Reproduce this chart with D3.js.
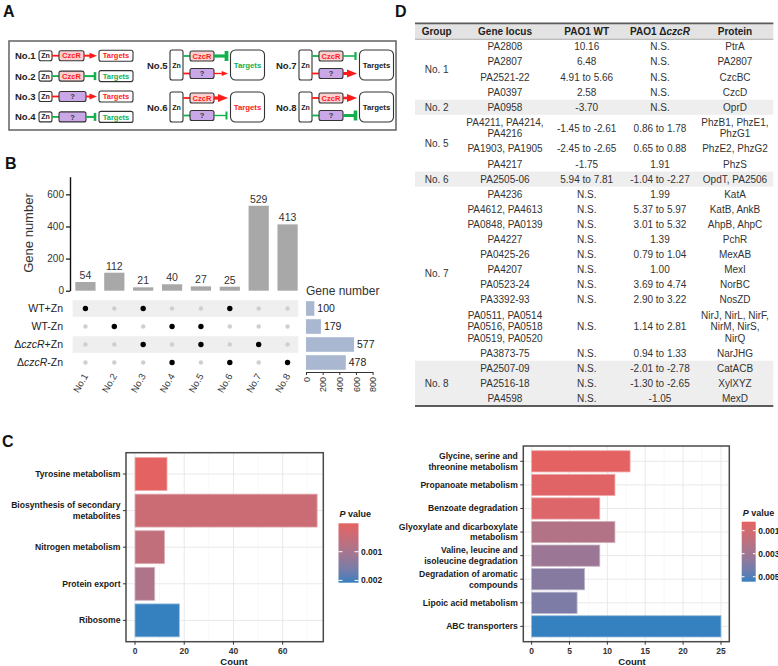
<!DOCTYPE html>
<html><head><meta charset="utf-8">
<script src="https://cdn.jsdelivr.net/npm/d3@7"></script>
<style>body{margin:0;background:#fff} svg{display:block;font-family:"Liberation Sans",Arial,Helvetica,sans-serif}</style>
</head><body>
<svg id="fig" width="778" height="666"></svg>
<script>
// ---------------- DATA ----------------
// Panel B (UpSet)
const combos = ["No.1","No.2","No.3","No.4","No.5","No.6","No.7","No.8"];
const comboCounts = [54,112,21,40,27,25,529,413];
const setNames = ["WT+Zn","WT-Zn","ΔczcR+Zn","ΔczcR-Zn"];
const setSizes = [100,179,577,478];
const membership = [
  [1,0,1,0,0,1,0,0],
  [0,1,0,1,1,0,0,0],
  [0,0,1,0,1,0,1,0],
  [0,0,0,1,0,1,0,1]
];
const comboTicks = [0,200,400,600];
const setTicks = [0,200,400,600,800];

// Panel C left
const pathwaysL = ["Tyrosine metabolism","Biosynthesis of secondary\nmetabolites","Nitrogen metabolism","Protein export","Ribosome"];
const countsL = [13,74,12,8,18];
const pvalsL = [0.00001,0.00045,0.0006,0.0009,0.00208];
const countTicksL = [0,20,40,60];
const pTicksL = [0.001,0.002];

// Panel C right
const pathwaysR = ["Glycine, serine and\nthreonine metabolism","Propanoate metabolism","Benzoate degradation","Glyoxylate and dicarboxylate\nmetabolism","Valine, leucine and\nisoleucine degradation","Degradation of aromatic\ncompounds","Lipoic acid metabolism","ABC transporters"];
const countsR = [13,11,9,11,9,7,6,25];
const pvalsR = [0.00022,0.0004,0.0006,0.0023,0.0031,0.0038,0.0041,0.00543];
const countTicksR = [0,5,10,15,20,25];
const pTicksR = [0.001,0.003,0.005];

// Panel D table
const tHeader = ["Group","Gene locus","PAO1 WT","PAO1 ΔczcR","Protein"];
const tGroup = ["No. 1","No. 1","No. 1","No. 1","No. 2","No. 5","No. 5","No. 5","No. 6","No. 7","No. 7","No. 7","No. 7","No. 7","No. 7","No. 7","No. 7","No. 7","No. 7","No. 8","No. 8","No. 8"];
const tLocus = ["PA2808","PA2807","PA2521-22","PA0397","PA0958","PA4211, PA4214,\nPA4216","PA1903, PA1905","PA4217","PA2505-06","PA4236","PA4612, PA4613","PA0848, PA0139","PA4227","PA0425-26","PA4207","PA0523-24","PA3392-93","PA0511, PA0514\nPA0516, PA0518\nPA0519, PA0520","PA3873-75","PA2507-09","PA2516-18","PA4598"];
const tWT = ["10.16","6.48","4.91 to 5.66","2.58","-3.70","-1.45 to -2.61","-2.45 to -2.65","-1.75","5.94 to 7.81","N.S.","N.S.","N.S.","N.S.","N.S.","N.S.","N.S.","N.S.","N.S.","N.S.","N.S.","N.S.","N.S."];
const tMut = ["N.S.","N.S.","N.S.","N.S.","N.S.","0.86 to 1.78","0.65 to 0.88","1.91","-1.04 to -2.27","1.99","5.37 to 5.97","3.01 to 5.32","1.39","0.79 to 1.04","1.00","3.69 to 4.74","2.90 to 3.22","1.14 to 2.81","0.94 to 1.33","-2.01 to -2.78","-1.30 to -2.65","-1.05"];
const tProtein = ["PtrA","PA2807","CzcBC","CzcD","OprD","PhzB1, PhzE1,\nPhzG1","PhzE2, PhzG2","PhzS","OpdT, PA2506","KatA","KatB, AnkB","AhpB, AhpC","PchR","MexAB","MexI","NorBC","NosZD","NirJ, NirL, NirF,\nNirM, NirS,\nNirQ","NarJHG","CatACB","XylXYZ","MexD"];
const shadedGroups = ["No. 2","No. 6","No. 8"];

// ---------------- DRAW ----------------
const svg = d3.select("#fig");

// panel letters
[["A",3,17],["B",5,169],["C",2,447],["D",395,17]].forEach(([t,x,y])=>
  svg.append("text").attr("x",x).attr("y",y).attr("font-size",16).attr("font-weight","bold").attr("fill","#111").text(t));

// multi-line text helper
function mtext(g,x,yc,str,fs,lh,anchor,attrs){
  const lines = str.split("\n");
  const t = g.append("text").attr("text-anchor",anchor).attr("font-size",fs);
  Object.entries(attrs||{}).forEach(([k,v])=>t.attr(k,v));
  lines.forEach((l,i)=>t.append("tspan").attr("x",x).attr("y",yc+(i-(lines.length-1)/2)*lh+fs*0.35).text(l));
  return t;
}

// ===== Panel A (schematic) =====
const gA = svg.append("g");
const RED="#ff1a1a", GRN="#14b04e", PINK="#fbd0d0", PURP="#caa8e8", STK="#333";
gA.append("rect").attr("x",9).attr("y",41).attr("width",387).attr("height",89)
  .attr("fill","none").attr("stroke","#6b6b6b").attr("stroke-width",1.6);
function box(x,y,w,h,fill,label,color,fs,rx){
  gA.append("rect").attr("x",x).attr("y",y).attr("width",w).attr("height",h).attr("rx",rx||2)
    .attr("fill",fill).attr("stroke",STK).attr("stroke-width",1.1);
  gA.append("text").attr("x",x+w/2).attr("y",y+h/2+fs*0.36).attr("text-anchor","middle")
    .attr("font-size",fs).attr("font-weight","bold").attr("fill",color).text(label);
}
function act(x1,x2,y,sw,hw){
  gA.append("line").attr("x1",x1).attr("x2",x2-hw).attr("y1",y).attr("y2",y).attr("stroke",RED).attr("stroke-width",sw);
  gA.append("path").attr("d",`M${x2-hw*1.25},${y-hw/2}L${x2},${y}L${x2-hw*1.25},${y+hw/2}Z`).attr("fill",RED);
}
function rep(x1,x2,y,sw,bh){
  gA.append("line").attr("x1",x1).attr("x2",x2).attr("y1",y).attr("y2",y).attr("stroke",GRN).attr("stroke-width",sw);
  gA.append("line").attr("x1",x2).attr("x2",x2).attr("y1",y-bh/2).attr("y2",y+bh/2).attr("stroke",GRN).attr("stroke-width",sw+0.6);
}
function conn(x1,x2,y,type){
  gA.append("line").attr("x1",x1).attr("x2",x2).attr("y1",y).attr("y2",y)
    .attr("stroke",type==="act"?RED:GRN).attr("stroke-width",1.8);
}
const simpleRows = [
  {label:"No.1",mid:"CzcR",type:"act"},
  {label:"No.2",mid:"CzcR",type:"rep"},
  {label:"No.3",mid:"?",type:"act"},
  {label:"No.4",mid:"?",type:"rep"}
];
simpleRows.forEach((r,i)=>{
  const yc = 55.7 + i*20.4;
  gA.append("text").attr("x",15).attr("y",yc+3.4).attr("font-size",9.5).attr("font-weight","bold").attr("fill","#222").text(r.label);
  box(39,yc-5,13,10,"#fff","Zn","#222",7);
  conn(52,59,yc,r.type);
  if(r.mid==="CzcR") box(59,yc-5,25,10,PINK,"CzcR",RED,7.5);
  else box(59,yc-5,27,10,PURP,"?","#333",7.5);
  const ex = r.mid==="CzcR"?84:86;
  if(r.type==="act") act(ex,97,yc,2,6); else rep(ex,95,yc,2,8);
  box(99,yc-5.5,34,11,"#fff","Targets",r.type==="act"?RED:GRN,7.5,2);
});
const complexRows = [
  {label:"No.5",x0:147,y0:50,cz:"rep",czW:3.2,q:"act",qW:1.4,tc:GRN},
  {label:"No.6",x0:147,y0:92,cz:"act",czW:3.2,q:"rep",qW:1.4,tc:RED},
  {label:"No.7",x0:276,y0:50,cz:"rep",czW:1.6,q:"act",qW:3.0,tc:"#222"},
  {label:"No.8",x0:276,y0:92,cz:"act",czW:2.6,q:"rep",qW:3.0,tc:"#222"}
];
complexRows.forEach(r=>{
  const x0=r.x0, y0=r.y0;
  gA.append("text").attr("x",x0).attr("y",y0+18.5).attr("font-size",9.5).attr("font-weight","bold").attr("fill","#222").text(r.label);
  box(x0+23,y0,13,30,"#fff","Zn","#222",7,2);
  const yCz=y0+6, yQ=y0+23.5;
  conn(x0+36,x0+43,yCz,r.cz); conn(x0+36,x0+43,yQ,r.q);
  box(x0+43,yCz-5,24,10,PINK,"CzcR",RED,7.5);
  box(x0+43,yQ-5,24,10,PURP,"?","#333",7.5);
  [[r.cz,yCz,r.czW],[r.q,yQ,r.qW]].forEach(([tp,y,w])=>{
    if(tp==="act") act(x0+67,x0+81,y,w,w>2?8:5); else rep(x0+67,x0+79.5,y,w,w>2?10:8);
  });
  box(x0+83.5,y0,34,30,"#fff","Targets",r.tc,7.8,5);
});

// ===== Panel B (UpSet) =====
const gB = svg.append("g").attr("font-size",10);
const xB = d3.scaleBand().domain(combos).range([71,302]).paddingInner(0.3).paddingOuter(0.15);
const yB = d3.scaleLinear().domain([0,710]).range([290.7,176.7]);
const yAx = gB.append("g").attr("transform","translate(70,0)")
  .call(d3.axisLeft(yB).tickValues(comboTicks).tickSize(4).tickSizeOuter(0).tickPadding(2));
yAx.select(".domain").attr("stroke","#111").attr("stroke-width",1.4);
yAx.selectAll(".tick line").attr("stroke","#111").attr("stroke-width",1.2);
yAx.selectAll("text").attr("font-size",10).attr("fill","#333").attr("font-family",null);
gB.append("text").attr("transform","translate(33,233) rotate(-90)").attr("text-anchor","middle")
  .attr("font-size",13).attr("fill","#333").text("Gene number");
gB.selectAll(".cbar").data(combos).join("rect").attr("class","cbar")
  .attr("x",d=>xB(d)).attr("width",xB.bandwidth())
  .attr("y",(d,i)=>yB(comboCounts[i])).attr("height",(d,i)=>yB(0)-yB(comboCounts[i]))
  .attr("fill","#a8a8a8");
gB.selectAll(".clab").data(combos).join("text").attr("class","clab")
  .attr("x",d=>xB(d)+xB.bandwidth()/2).attr("y",(d,i)=>yB(comboCounts[i])-3)
  .attr("text-anchor","middle").attr("fill","#333").attr("font-size",10.5).text((d,i)=>comboCounts[i]);
// matrix
const yM = d3.scaleBand().domain(setNames).range([299.5,371.5]);
const rowC = s => yM(s)+yM.bandwidth()/2;
setNames.forEach((s,i)=>{
  if(i%2===0) gB.append("rect").attr("x",72.7).attr("width",225.6).attr("y",rowC(s)-8.3).attr("height",16.6).attr("fill","#efefef");
  const t = gB.append("text").attr("x",63).attr("y",rowC(s)+3.6).attr("text-anchor","end").attr("font-size",10.5).attr("fill","#222");
  if(s.startsWith("Δ")){ t.append("tspan").text("Δ"); t.append("tspan").attr("font-style","italic").text("czcR"); t.append("tspan").text(s.slice(5)); }
  else t.text(s);
  combos.forEach((c,j)=>{
    const on = membership[i][j]===1;
    gB.append("circle").attr("cx",xB(c)+xB.bandwidth()/2).attr("cy",rowC(s)).attr("r",on?2.7:2.2)
      .attr("fill",on?"#000":"#cfcfcf");
  });
});
combos.forEach(c=>{
  gB.append("text").attr("transform",`translate(${xB(c)+xB.bandwidth()/2+3},376) rotate(-60)`)
    .attr("text-anchor","end").attr("font-size",9.5).attr("fill","#333").text(c);
});
// set sizes
const xS = d3.scaleLinear().domain([0,800]).range([306,372.6]);
setNames.forEach((s,i)=>{
  gB.append("rect").attr("x",xS(0)).attr("y",rowC(s)-7.3).attr("height",14.6).attr("width",xS(setSizes[i])-xS(0)).attr("fill","#a9b8d0");
  gB.append("text").attr("x",xS(setSizes[i])+3).attr("y",rowC(s)+3.6).attr("font-size",10.5).attr("fill","#222").text(setSizes[i]);
});
gB.append("text").attr("x",306).attr("y",295).attr("font-size",12).attr("fill","#333").text("Gene number");
const sAx = gB.append("g").attr("transform","translate(0,372)")
  .call(d3.axisBottom(xS).tickValues(setTicks).tickSize(3).tickSizeOuter(0));
sAx.select(".domain").attr("stroke","#333");
sAx.selectAll(".tick line").attr("stroke","#333");
sAx.selectAll("text").attr("font-size",9).attr("fill","#333").attr("font-family",null)
  .attr("text-anchor","end").attr("transform","rotate(-90)").attr("x",-5).attr("y",0).attr("dy","0.35em");

// ===== Panel C (enrichment bars) =====
function enrich(o){
  const g = svg.append("g");
  const x = d3.scaleLinear().domain(o.xDomain).range([o.left,o.right]);
  const y = d3.scaleBand().domain(o.names).range([o.top,o.bottom]).paddingInner(0.1).paddingOuter(o.po);
  const pScale = d3.scaleLinear().domain(d3.extent(o.pvals)).range([0,1]);
  const interp = d3.interpolateLab("#E46262","#3580BE");
  g.append("rect").attr("x",o.left).attr("y",o.top).attr("width",o.right-o.left).attr("height",o.bottom-o.top).attr("fill","#fff");
  // minor grid
  const minor = o.ticks.slice(0,-1).map((t,i)=>(t+o.ticks[i+1])/2).concat([o.ticks[o.ticks.length-1]+(o.ticks[1]-o.ticks[0])/2]).filter(v=>x(v)<o.right);
  g.selectAll(".mg").data(minor).join("line").attr("x1",d=>x(d)).attr("x2",d=>x(d)).attr("y1",o.top).attr("y2",o.bottom).attr("stroke","#f3f3f3").attr("stroke-width",0.6);
  g.selectAll(".Mg").data(o.ticks).join("line").attr("x1",d=>x(d)).attr("x2",d=>x(d)).attr("y1",o.top).attr("y2",o.bottom).attr("stroke","#e6e6e6").attr("stroke-width",0.9);
  g.selectAll(".hg").data(o.names).join("line").attr("x1",o.left).attr("x2",o.right).attr("y1",d=>y(d)+y.bandwidth()/2).attr("y2",d=>y(d)+y.bandwidth()/2).attr("stroke","#e6e6e6").attr("stroke-width",0.9);
  g.selectAll(".bar").data(o.names).join("rect")
    .attr("x",x(0)).attr("y",d=>y(d)).attr("height",y.bandwidth())
    .attr("width",(d,i)=>x(o.counts[i])-x(0))
    .attr("fill",(d,i)=>interp(pScale(o.pvals[i])))
    .attr("stroke",(d,i)=>d3.interpolateRgb(interp(pScale(o.pvals[i])),"#fff")(0.45)).attr("stroke-width",0.8);
  g.append("rect").attr("x",o.left).attr("y",o.top).attr("width",o.right-o.left).attr("height",o.bottom-o.top)
    .attr("fill","none").attr("stroke","#4a4a4a").attr("stroke-width",1.5);
  // ticks
  o.ticks.forEach(t=>{
    g.append("line").attr("x1",x(t)).attr("x2",x(t)).attr("y1",o.bottom).attr("y2",o.bottom+3).attr("stroke","#333");
    g.append("text").attr("x",x(t)).attr("y",o.bottom+12.5).attr("text-anchor","middle").attr("font-size",8.5).attr("font-weight","bold").attr("fill","#333").text(t);
  });
  o.names.forEach(n=>{
    const yc = y(n)+y.bandwidth()/2;
    g.append("line").attr("x1",o.left-3).attr("x2",o.left).attr("y1",yc).attr("y2",yc).attr("stroke","#333");
    mtext(g,o.left-5.5,yc,n,8.6,10.6,"end",{"font-weight":"bold","fill":"#1a1a1a"});
  });
  g.append("text").attr("x",o.countX).attr("y",o.bottom+23).attr("text-anchor","middle").attr("font-size",9.5).attr("font-weight","bold").attr("fill","#1a1a1a").text("Count");
  // legend
  const L=o.legend;
  const gid="grad"+o.id;
  const grad = svg.append("defs").append("linearGradient").attr("id",gid).attr("x1",0).attr("x2",0).attr("y1",0).attr("y2",1);
  d3.range(0,1.0001,0.1).forEach(t=>grad.append("stop").attr("offset",t).attr("stop-color",interp(t)));
  const tt = g.append("text").attr("x",L.x+1).attr("y",L.y-6).attr("font-size",9).attr("font-weight","bold").attr("fill","#1a1a1a");
  tt.append("tspan").attr("font-style","italic").text("P");
  tt.append("tspan").text(" value");
  g.append("rect").attr("x",L.x).attr("y",L.y).attr("width",L.w).attr("height",L.h).attr("fill",`url(#${gid})`);
  const ly = d3.scaleLinear().domain(d3.extent(o.pvals)).range([L.y,L.y+L.h]);
  o.pTicks.forEach(p=>{
    const yy = ly(p);
    g.append("line").attr("x1",L.x).attr("x2",L.x+L.w*0.2).attr("y1",yy).attr("y2",yy).attr("stroke","#fff");
    g.append("line").attr("x1",L.x+L.w*0.8).attr("x2",L.x+L.w).attr("y1",yy).attr("y2",yy).attr("stroke","#fff");
    g.append("text").attr("x",L.x+L.w+2.5).attr("y",yy+3).attr("font-size",8.5).attr("font-weight","bold").attr("fill","#1a1a1a").text(p.toFixed(3));
  });
}
enrich({id:"L",names:pathwaysL,counts:countsL,pvals:pvalsL,ticks:countTicksL,pTicks:pTicksL,
  xDomain:[-3.66,76.5],left:126,right:323.3,top:452.7,bottom:641.7,po:0.132,countX:234,
  legend:{x:338.5,y:523.3,w:20,h:59.4}});
enrich({id:"R",names:pathwaysR,counts:countsR,pvals:pvalsR,ticks:countTicksR,pTicks:pTicksR,
  xDomain:[-1.1,26.1],left:523.3,right:729.3,top:446,bottom:641.7,po:0.2,countX:632,
  legend:{x:741.7,y:521.7,w:14,h:60}});

// ===== Panel D (table) =====
const gD = svg.append("g").attr("font-size",10);
const tLeft=415, tRight=773.3, tTop=23.3, hdrH=16;
const colX = [436.7,505,586.7,660,735];
const rowH = 15.1, lineGap = 11.5;
const nLines = tLocus.map((s,i)=>Math.max(s.split("\n").length,tProtein[i].split("\n").length));
let yy = tTop+hdrH;
const rowY = nLines.map(n=>{const h=rowH+(n-1)*lineGap; const r={y:yy,h:h}; yy+=h; return r;});
const tBottom = yy;
gD.append("rect").attr("x",tLeft).attr("y",tTop).attr("width",tRight-tLeft).attr("height",hdrH).attr("fill","#e3e3e3");
rowY.forEach((r,i)=>{
  if(shadedGroups.includes(tGroup[i])) gD.append("rect").attr("x",tLeft).attr("y",r.y).attr("width",tRight-tLeft).attr("height",r.h).attr("fill","#eeeeee");
});
gD.append("line").attr("x1",tLeft).attr("x2",tRight).attr("y1",tTop).attr("y2",tTop).attr("stroke","#5a5a5a").attr("stroke-width",1.8);
gD.append("line").attr("x1",tLeft).attr("x2",tRight).attr("y1",tTop+hdrH).attr("y2",tTop+hdrH).attr("stroke","#9a9a9a").attr("stroke-width",0.8);
gD.append("line").attr("x1",tLeft).attr("x2",tRight).attr("y1",tBottom).attr("y2",tBottom).attr("stroke","#5a5a5a").attr("stroke-width",1.8);
tHeader.forEach((h,i)=>{
  const t = gD.append("text").attr("x",colX[i]).attr("y",tTop+hdrH/2+3.6).attr("text-anchor","middle").attr("font-weight","bold").attr("fill","#222");
  if(h.includes("Δ")){ t.append("tspan").text("PAO1 Δ"); t.append("tspan").attr("font-style","italic").text("czcR"); }
  else t.text(h);
});
[tLocus,tWT,tMut,tProtein].forEach((col,ci)=>{
  col.forEach((s,i)=>mtext(gD,colX[ci+1],rowY[i].y+rowY[i].h/2,s,10,lineGap,"middle",{"fill":"#333"}));
});
// group labels centred on each group
const groupsU = [...new Set(tGroup)];
groupsU.forEach(gname=>{
  const idx = tGroup.map((g,i)=>g===gname?i:-1).filter(i=>i>=0);
  const y0 = rowY[idx[0]].y, y1 = rowY[idx[idx.length-1]].y+rowY[idx[idx.length-1]].h;
  gD.append("text").attr("x",colX[0]).attr("y",(y0+y1)/2+3.5).attr("text-anchor","middle").attr("fill","#333").text(gname);
});
</script>
</body></html>
